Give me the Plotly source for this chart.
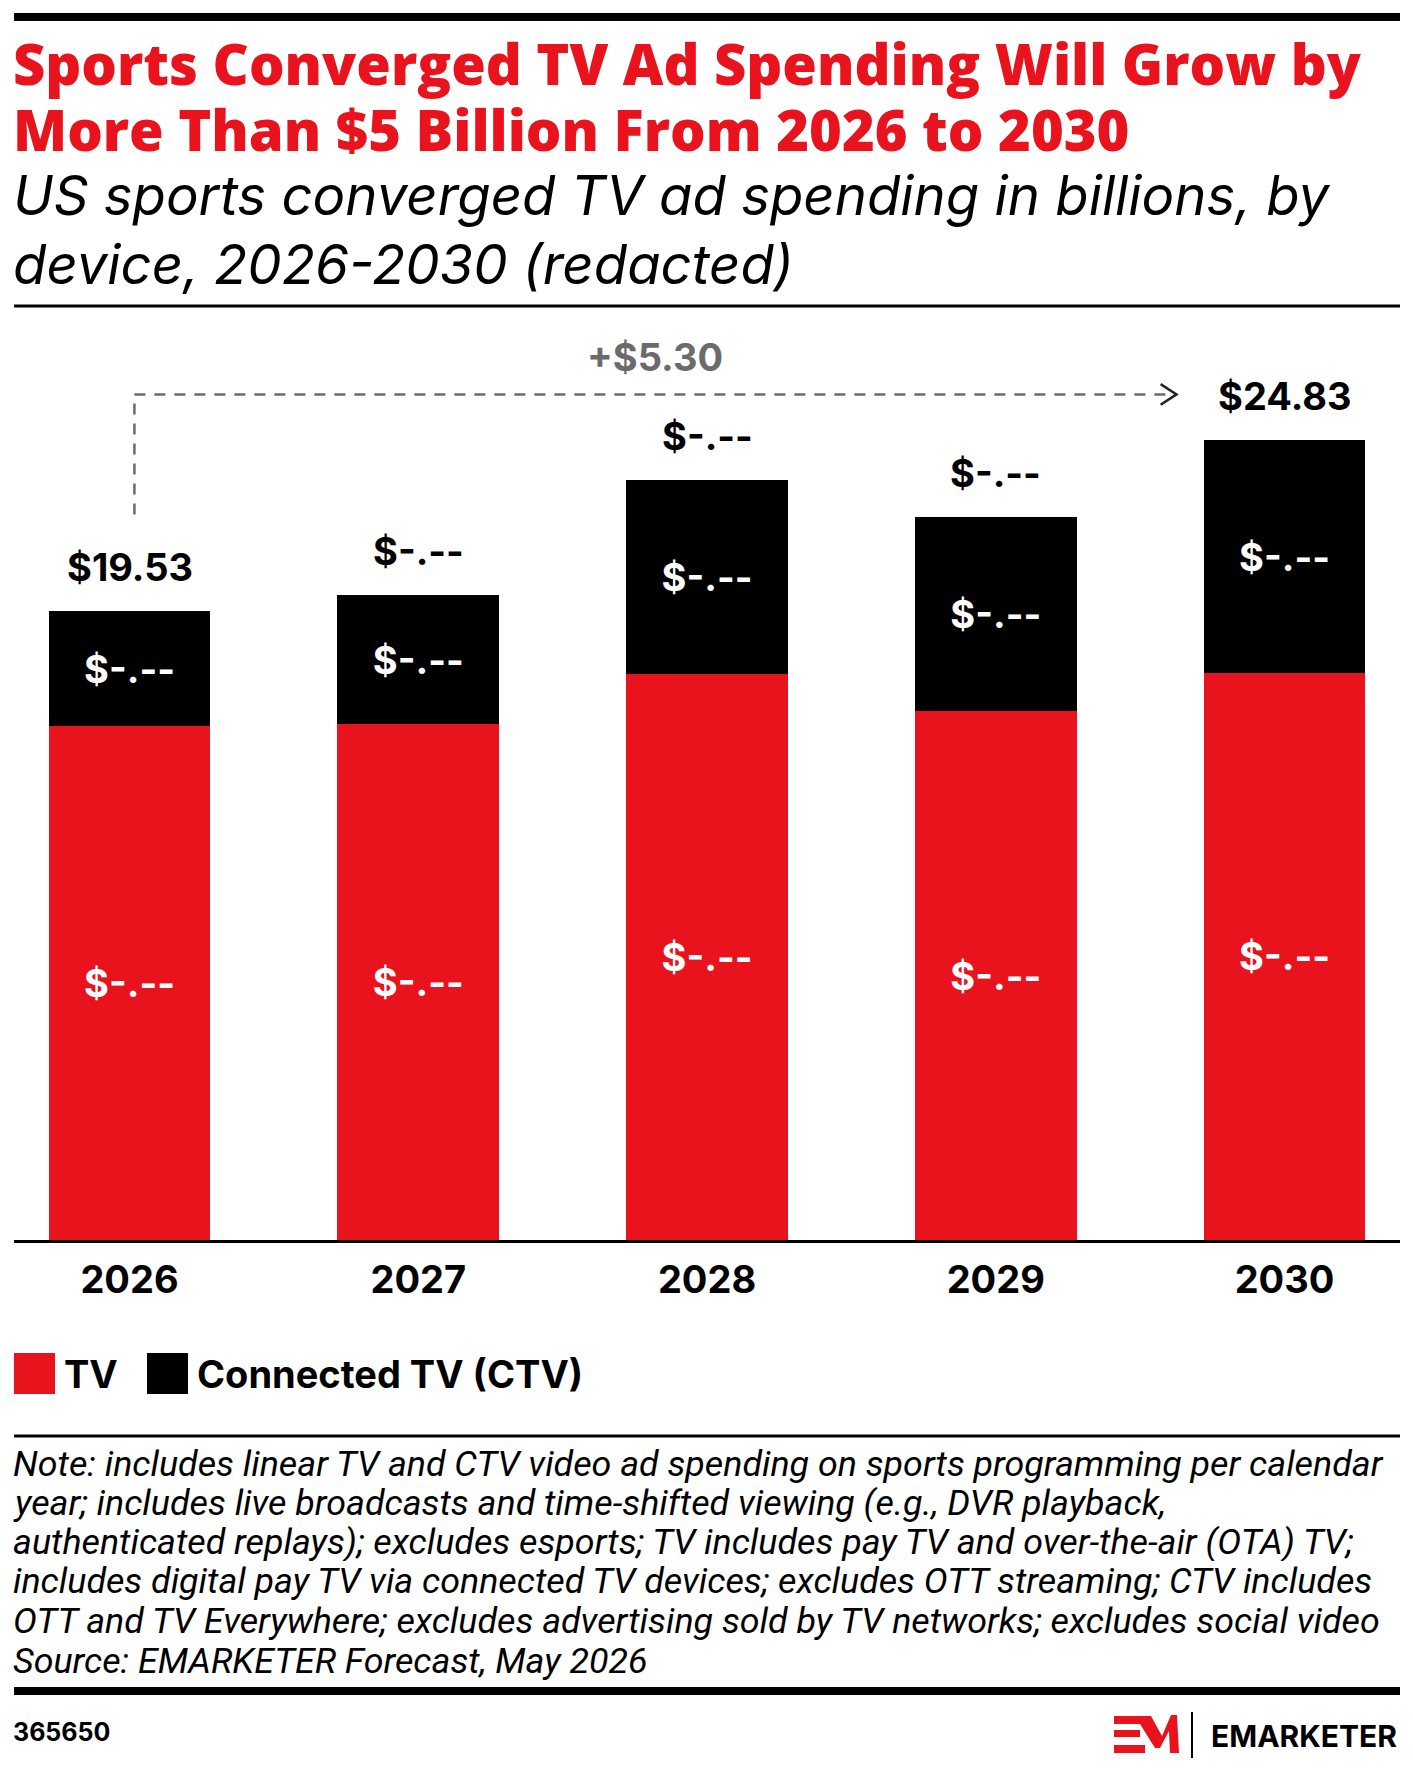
import plotly.graph_objects as go

# data (billions USD)
years = ["2026", "2027", "2028", "2029", "2030"]
tv = [15.95, 16.01, 17.59, 16.42, 17.61]
ctv = [3.58, 4.02, 6.01, 6.03, 7.22]
tv_labels = ["$-.--", "$-.--", "$-.--", "$-.--", "$-.--"]
ctv_labels = ["$-.--", "$-.--", "$-.--", "$-.--", "$-.--"]
total_labels = ["$19.53", "$-.--", "$-.--", "$-.--", "$24.83"]

title_lines = ["Sports Converged TV Ad Spending Will Grow by",
               "More Than $5 Billion From 2026 to 2030"]
subtitle_lines = ["US sports converged TV ad spending in billions, by",
                  "device, 2026-2030 (redacted)"]
note_lines = [
    "Note: includes linear TV and CTV video ad spending on sports programming per calendar",
    "year; includes live broadcasts and time-shifted viewing (e.g., DVR playback,",
    "authenticated replays); excludes esports; TV includes pay TV and over-the-air (OTA) TV;",
    "includes digital pay TV via connected TV devices; excludes OTT streaming; CTV includes",
    "OTT and TV Everywhere; excludes advertising sold by TV networks; excludes social video",
    "Source: EMARKETER Forecast, May 2026",
]

totals = [round(a + b, 2) for a, b in zip(tv, ctv)]
growth = "+$%.2f" % (totals[-1] - totals[0])

RED = "#E9131D"
GREY = "#6B6B6B"
HEAD = "Open Sans"
BOLD = "Inter"
SUB = "Inter"
NOTE = "Roboto"

W, H = 1413, 1770
PL, PR, PT, PB = 14, 1400, 330, 1240


# pixel -> paper helpers for the text around the plot
def px(x):
    return (x - PL) / (PR - PL)


def py(y):
    return (PB - y) / (PB - PT)


# multi-line block: plotly spaces lines at 1.3x the base font size,
# so the base size sets the line pitch and a span sets the glyph size
def block(lines, size, italic=False):
    parts = []
    for ln in lines:
        s = "<span style='font-size:%.1fpx'>%s</span>" % (size, ln)
        parts.append("<i>%s</i>" % s if italic else s)
    return "<br>".join(parts)


fig = go.Figure()
fig.add_trace(go.Bar(
    x=years, y=tv, name="TV", marker=dict(color=RED, line=dict(width=0)),
    text=tv_labels, textposition="inside", insidetextanchor="middle",
    textangle=0, constraintext="none",
    textfont=dict(family=BOLD, size=38, color="white", weight="bold"),
))
fig.add_trace(go.Bar(
    x=years, y=ctv, name="Connected TV (CTV)", marker=dict(color="black", line=dict(width=0)),
    text=ctv_labels, textposition="inside", insidetextanchor="middle",
    textangle=0, constraintext="none",
    textfont=dict(family=BOLD, size=38, color="white", weight="bold"),
))

annotations = []
shapes = []

# totals above bars
for i, (tot, lab) in enumerate(zip(totals, total_labels)):
    annotations.append(dict(x=i, y=tot, xref="x", yref="y", text=lab, showarrow=False,
                            yanchor="middle", yshift=44,
                            font=dict(family=BOLD, size=38, color="black", weight="bold")))

# dashed growth connector from first to last bar
x_start = 0.017
x_end = len(years) - 1 - 0.374
y_low = totals[0] + 3.0
y_top = max(totals) + 1.43
dash_line = dict(color=GREY, width=2.5, dash="11px,9px")
shapes.append(dict(type="line", xref="x", yref="y", x0=x_start, x1=x_start, y0=y_low, y1=y_top, line=dash_line))
shapes.append(dict(type="line", xref="x", yref="y", x0=x_start, x1=x_end, y0=y_top, y1=y_top, line=dash_line))
shapes.append(dict(type="path", xref="x", yref="y",
                   path="M %f,%f L %f,%f L %f,%f" % (x_end - 0.055, y_top + 0.32, x_end, y_top,
                                                     x_end - 0.055, y_top - 0.32),
                   line=dict(color="#222222", width=2.5)))
annotations.append(dict(x=(x_start + x_end) / 2, y=y_top, xref="x", yref="y", text=growth,
                        showarrow=False, yanchor="middle", yshift=37,
                        font=dict(family=BOLD, size=38, color=GREY, weight="bold")))

# header: title (line pitch 66px) and subtitle (line pitch 69px)
annotations.append(dict(x=px(11), y=py(95.5), xref="paper", yref="paper",
                        text=block(title_lines, 56), showarrow=False,
                        xanchor="left", yanchor="middle", align="left",
                        font=dict(family=HEAD, size=66 / 1.3, color=RED, weight=800)))
annotations.append(dict(x=px(11), y=py(229.5), xref="paper", yref="paper",
                        text=block(subtitle_lines, 54.5, italic=True), showarrow=False,
                        xanchor="left", yanchor="middle", align="left",
                        font=dict(family=SUB, size=69 / 1.3, color="black")))

# rules
shapes.append(dict(type="rect", xref="paper", yref="paper", x0=px(14), x1=px(1400),
                   y0=py(21), y1=py(13), fillcolor="black", line=dict(width=0)))
shapes.append(dict(type="line", xref="paper", yref="paper", x0=px(14), x1=px(1400),
                   y0=py(306), y1=py(306), line=dict(color="black", width=3)))
shapes.append(dict(type="line", xref="paper", yref="paper", x0=px(14), x1=px(1400),
                   y0=py(1436), y1=py(1436), line=dict(color="black", width=3)))
shapes.append(dict(type="rect", xref="paper", yref="paper", x0=px(14), x1=px(1400),
                   y0=py(1695), y1=py(1687), fillcolor="black", line=dict(width=0)))

# legend
legend_items = [("TV", RED, 14, 62), ("Connected TV (CTV)", "black", 147, 195)]
for name, col, sx, tx in legend_items:
    shapes.append(dict(type="rect", xref="paper", yref="paper", x0=px(sx), x1=px(sx + 41),
                       y0=py(1394), y1=py(1353), fillcolor=col, line=dict(width=0)))
    annotations.append(dict(x=px(tx), y=py(1374), xref="paper", yref="paper", text=name,
                            showarrow=False, xanchor="left", yanchor="middle",
                            font=dict(family=BOLD, size=38, color="black", weight="bold")))

# note and source
note_centers = [1464, 1503, 1542, 1581, 1621, 1661]
for line, yc in zip(note_lines, note_centers):
    annotations.append(dict(x=px(11), y=py(yc), xref="paper", yref="paper", text="<i>%s</i>" % line,
                            showarrow=False, xanchor="left", yanchor="middle", height=38,
                            font=dict(family=NOTE, size=35.8, color="black")))

# footer
annotations.append(dict(x=px(11), y=py(1732), xref="paper", yref="paper", text="365650",
                        showarrow=False, xanchor="left", yanchor="middle",
                        font=dict(family=BOLD, size=25, color="black", weight="bold")))
annotations.append(dict(x=px(1399), y=py(1736), xref="paper", yref="paper", text="EMARKETER",
                        showarrow=False, xanchor="right", yanchor="middle",
                        font=dict(family=BOLD, size=30, color="black", weight="bold")))
shapes.append(dict(type="line", xref="paper", yref="paper", x0=px(1192), x1=px(1192),
                   y0=py(1758), y1=py(1712), line=dict(color="black", width=2)))
for y0, y1, x1 in [(1716, 1724, 1145), (1730, 1737, 1140), (1745, 1753, 1145)]:
    shapes.append(dict(type="rect", xref="paper", yref="paper", x0=px(1114), x1=px(x1),
                       y0=py(y1), y1=py(y0), fillcolor=RED, line=dict(width=0)))
m_pts = [(1140, 1716), (1151, 1716), (1162, 1736), (1171, 1715), (1177, 1715), (1179, 1753),
         (1170, 1753), (1169, 1731), (1160, 1748), (1155, 1748), (1140, 1724)]
shapes.append(dict(type="path", xref="paper", yref="paper",
                   path="M " + " L ".join("%f,%f" % (px(a), py(b)) for a, b in m_pts) + " Z",
                   fillcolor=RED, line=dict(width=0)))

fig.update_layout(
    width=W, height=H,
    margin=dict(l=PL, r=W - PR, t=PT, b=H - PB, autoexpand=False),
    paper_bgcolor="white", plot_bgcolor="white",
    barmode="stack", bargap=0.44,
    showlegend=False,
    annotations=annotations, shapes=shapes,
    font=dict(family=BOLD),
)
fig.update_xaxes(type="category", range=[-0.4, 4.4], showline=True, linecolor="black", linewidth=3,
                 showgrid=False, ticks="", ticklabelstandoff=4,
                 tickfont=dict(family=BOLD, size=38, color="black", weight="bold"))
fig.update_yaxes(range=[0, 28.26], showgrid=False, zeroline=False, showticklabels=False)

# drop the browser's default body margin so the figure sits at the page origin
fig.write_html("out.html", config={"displayModeBar": False},
               post_script="document.body.style.margin='0';")
